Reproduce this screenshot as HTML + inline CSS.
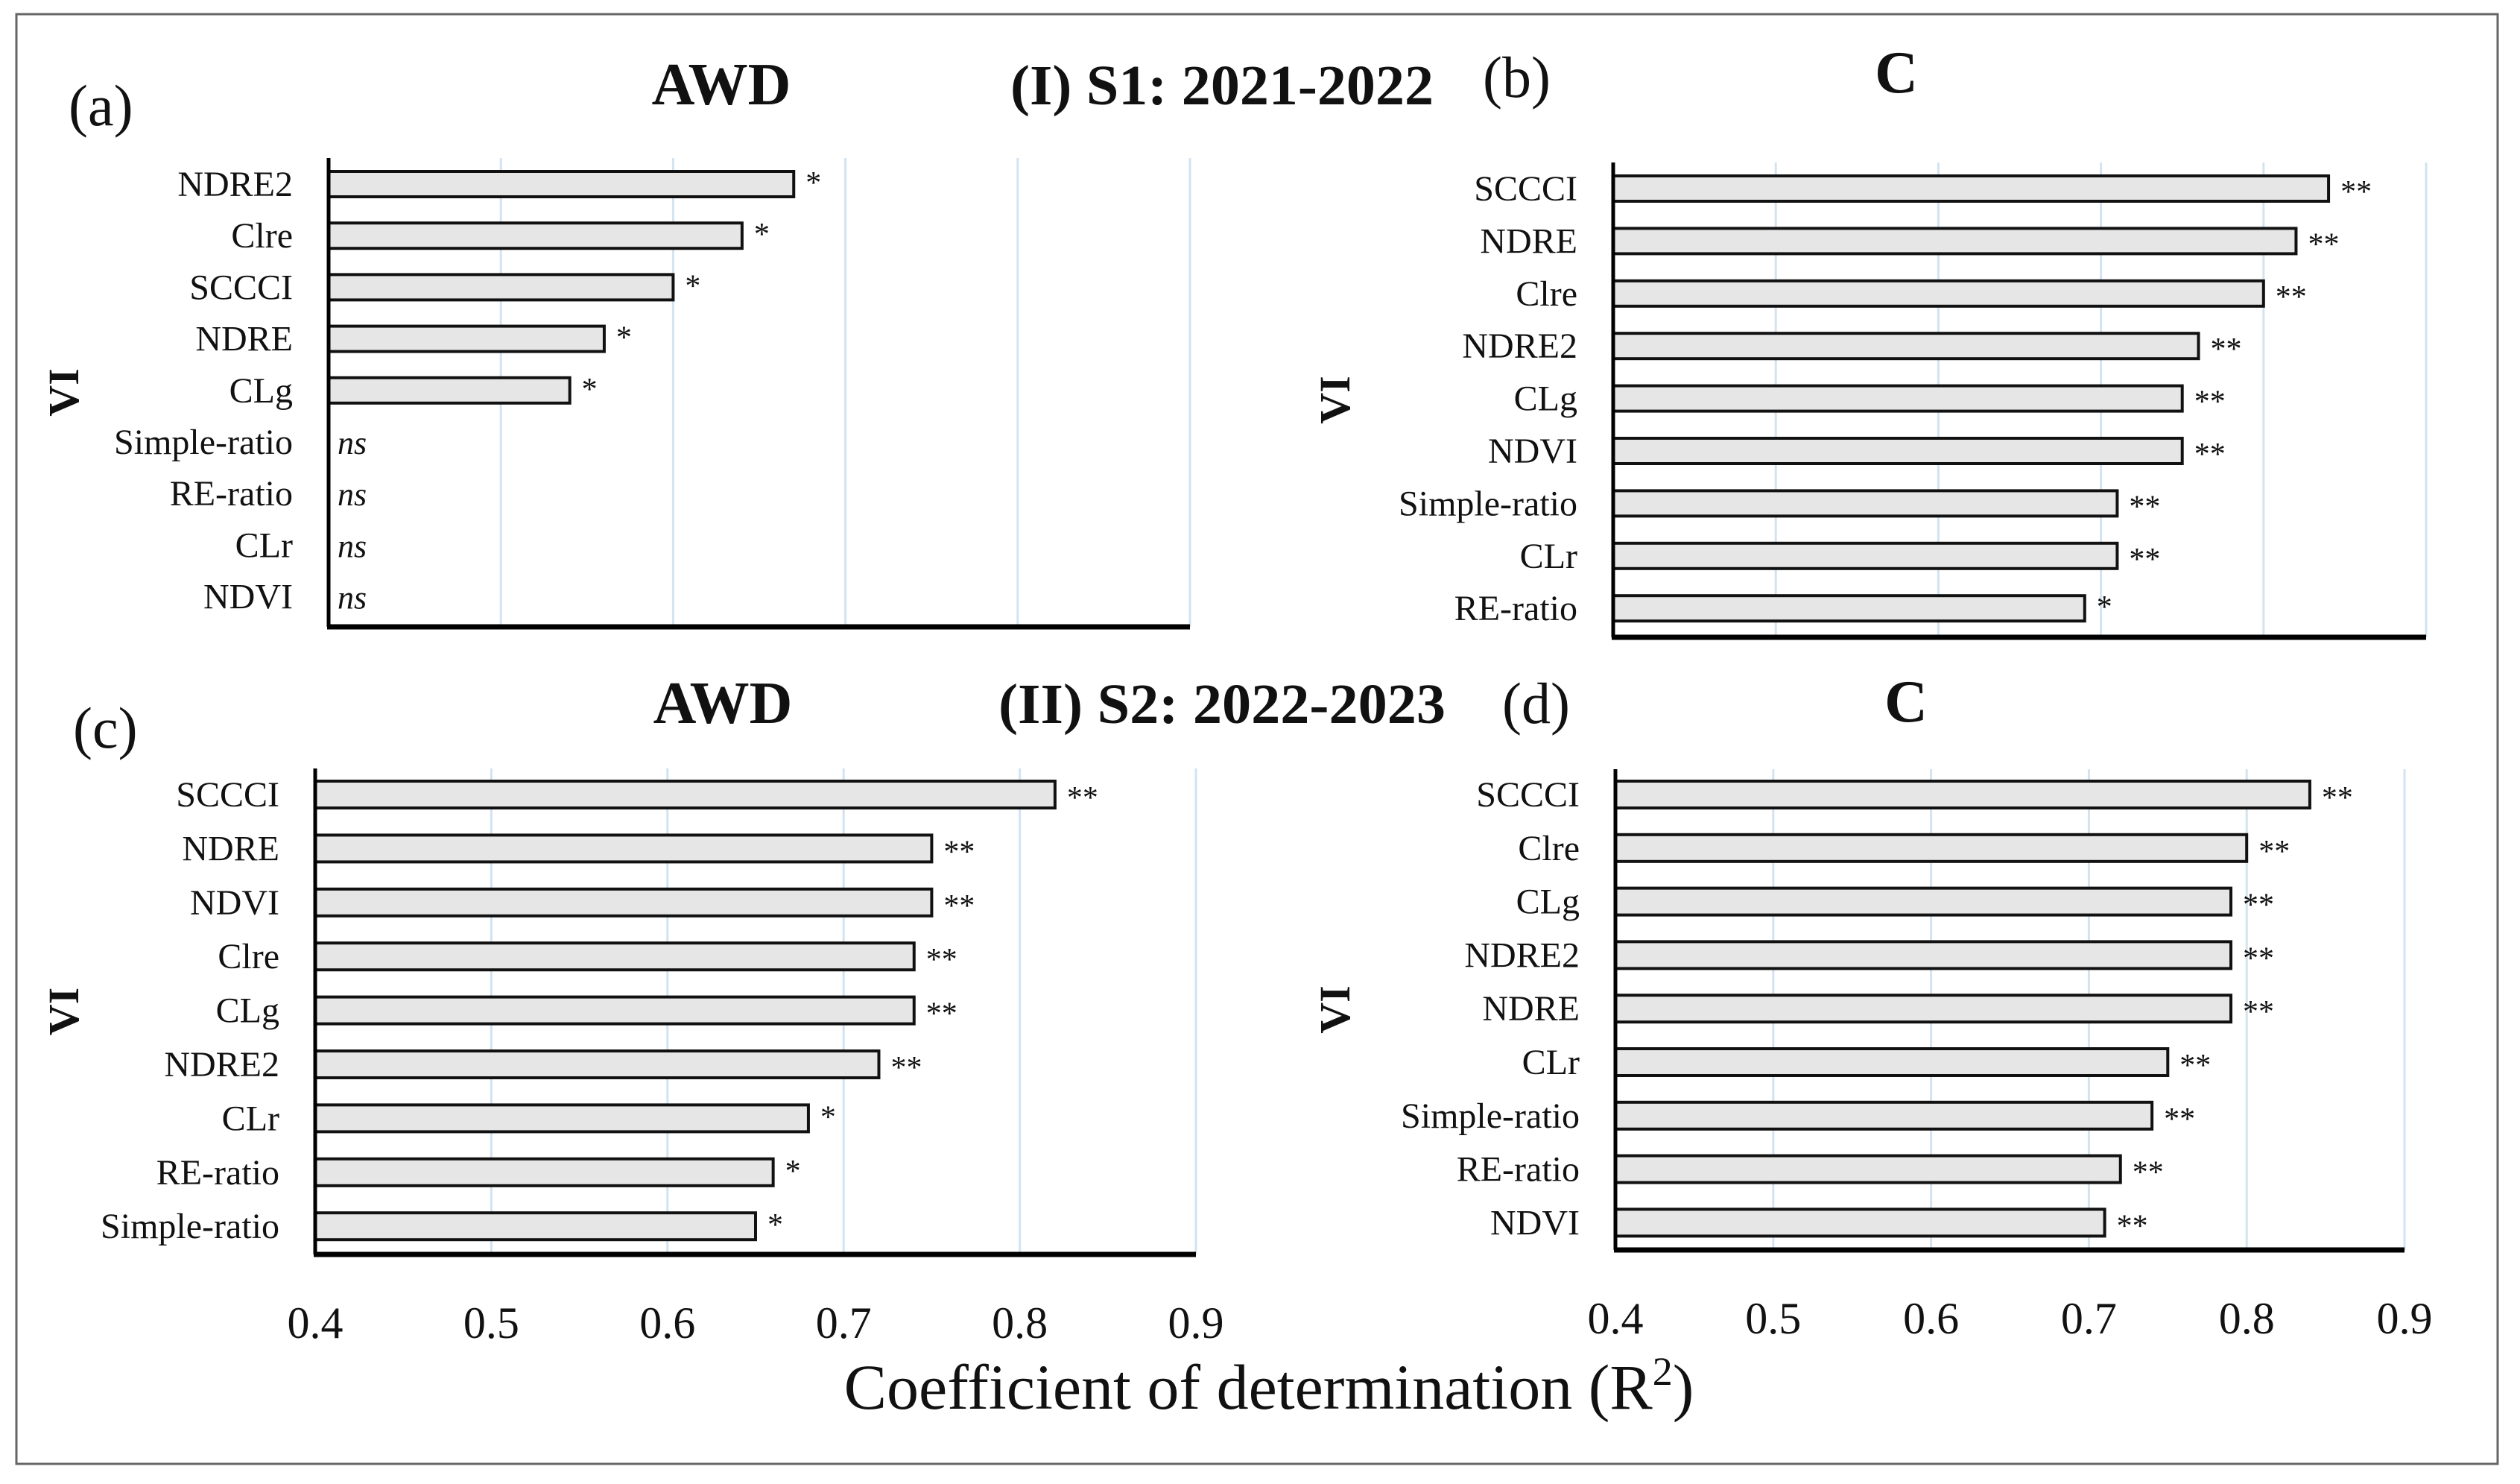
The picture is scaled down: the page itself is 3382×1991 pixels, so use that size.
<!DOCTYPE html>
<html><head><meta charset="utf-8">
<style>
html,body{margin:0;padding:0;background:#fff;}
svg{display:block;}
text{font-family:"Liberation Serif",serif;fill:#111;}
</style></head>
<body>
<svg id="fig" width="3382" height="1991" viewBox="0 0 3382 1991" xmlns="http://www.w3.org/2000/svg" font-family="Liberation Serif, serif">
<rect x="22" y="19" width="3330" height="1945" fill="#fff" stroke="#666" stroke-width="3"/>
<text x="92" y="168" font-size="78">(a)</text>
<text x="968" y="140" font-size="80" font-weight="bold" text-anchor="middle">AWD</text>
<text x="1356" y="140" font-size="76" font-weight="bold" textLength="568" lengthAdjust="spacingAndGlyphs">(I) S1: 2021-2022</text>
<text x="1990" y="130" font-size="78">(b)</text>
<text x="2545" y="124" font-size="80" font-weight="bold" text-anchor="middle">C</text>
<text x="98" y="1003" font-size="78">(c)</text>
<text x="970" y="970" font-size="80" font-weight="bold" text-anchor="middle">AWD</text>
<text x="1340" y="970" font-size="76" font-weight="bold" textLength="600" lengthAdjust="spacingAndGlyphs">(II) S2: 2022-2023</text>
<text x="2016" y="970" font-size="78">(d)</text>
<text x="2558" y="968" font-size="80" font-weight="bold" text-anchor="middle">C</text>
<text x="1703" y="1890" font-size="86" text-anchor="middle">Coefficient of determination (R<tspan font-size="54" dy="-32">2</tspan><tspan dy="32">)</tspan></text>
<g id="plots"></g>
</svg>
<script>
// Panel (a) AWD S1
const catsA = ["NDRE2","Clre","SCCCI","NDRE","CLg","Simple-ratio","RE-ratio","CLr","NDVI"];
const valsA = [0.67,0.64,0.60,0.56,0.54,null,null,null,null];
const sigA = ["*","*","*","*","*","ns","ns","ns","ns"];
// Panel (b) C S1
const catsB = ["SCCCI","NDRE","Clre","NDRE2","CLg","NDVI","Simple-ratio","CLr","RE-ratio"];
const valsB = [0.84,0.82,0.80,0.76,0.75,0.75,0.71,0.71,0.69];
const sigB = ["**","**","**","**","**","**","**","**","*"];
// Panel (c) AWD S2
const catsC = ["SCCCI","NDRE","NDVI","Clre","CLg","NDRE2","CLr","RE-ratio","Simple-ratio"];
const valsC = [0.82,0.75,0.75,0.74,0.74,0.72,0.68,0.66,0.65];
const sigC = ["**","**","**","**","**","**","*","*","*"];
// Panel (d) C S2
const catsD = ["SCCCI","Clre","CLg","NDRE2","NDRE","CLr","Simple-ratio","RE-ratio","NDVI"];
const valsD = [0.84,0.80,0.79,0.79,0.79,0.75,0.74,0.72,0.71];
const sigD = ["**","**","**","**","**","**","**","**","**"];
const xTicks = [0.4,0.5,0.6,0.7,0.8,0.9];
const xTickLabels = ["0.4","0.5","0.6","0.7","0.8","0.9"];

const NS = "http://www.w3.org/2000/svg";
const root = document.getElementById('plots');
function mk(tag, attrs, parent){const e=document.createElementNS(NS,tag);for(const k in attrs)e.setAttribute(k,attrs[k]);parent.appendChild(e);return e;}
const SERIF = 'Liberation Serif, serif';

const panels = [
 {id:'a',cats:catsA,vals:valsA,sig:sigA,x0:441,x1:1597,top:212,bot:841,y0:247,step:69.2,bh:34,ticks:false,viX:85},
 {id:'b',cats:catsB,vals:valsB,sig:sigB,x0:2165,x1:3256,top:218,bot:855,y0:253,step:70.4,bh:34,ticks:false,viX:1791},
 {id:'c',cats:catsC,vals:valsC,sig:sigC,x0:423,x1:1605,top:1031,bot:1683,y0:1066,step:72.4,bh:36,ticks:true,viX:85},
 {id:'d',cats:catsD,vals:valsD,sig:sigD,x0:2168,x1:3227,top:1032,bot:1677,y0:1066,step:71.8,bh:36,ticks:true,viX:1791}
];

panels.forEach(p=>{
  const g = mk('g',{},root);
  
  
  const xs = v => p.x0 + (v-0.4)/(0.9-0.4)*(p.x1-p.x0);
  const ys = i => p.y0 + i*p.step;
  xTicks.forEach((t,i)=>{
    if(i>0){
      const gl = mk('line',{x1:xs(t),x2:xs(t),y1:p.top,y2:p.bot,stroke:'#d3e3f0','stroke-width':3},g);
      
      
    }
    if(p.ticks){
      const tl = mk('text',{x:xs(t),y:p.bot+112,'font-size':60,'text-anchor':'middle','font-family':SERIF},g);
      tl.textContent = xTickLabels[i];
      
      
    }
  });
  p.cats.forEach((c,i)=>{
    const cy = ys(i);
    const lb = mk('text',{x:p.x0-48,y:cy+16,'font-size':48,'text-anchor':'end','font-family':SERIF},g);
    lb.textContent = c;
    
    
    const v = p.vals[i];
    if(v!==null){
      const r = mk('rect',{x:p.x0,y:cy-p.bh/2,width:xs(v)-p.x0,height:p.bh,fill:'#e6e6e6',stroke:'#111','stroke-width':4},g);
      
      
      const s = mk('text',{x:xs(v)+16,y:cy+(p.sig[i]==='*'?12:18),'font-size':42,'font-family':SERIF},g);
      s.textContent = p.sig[i];
      
      
    } else {
      const s = mk('text',{x:p.x0+12,y:cy+16,'font-size':44,'font-style':'italic','font-family':'Liberation Sans, sans-serif'},g);
      s.textContent = p.sig[i];
      
      
    }
  });
  const ya = mk('line',{x1:p.x0,x2:p.x0,y1:p.top,y2:p.bot,stroke:'#000','stroke-width':5},g);
  
  
  const xa = mk('line',{x1:p.x0-2,x2:p.x1,y1:p.bot,y2:p.bot,stroke:'#000','stroke-width':7},g);
  
  
  const cyv = (p.top+p.bot)/2;
  const vi = mk('text',{x:p.viX,y:cyv,'font-size':58,'font-weight':'bold','text-anchor':'middle','font-family':SERIF,transform:'rotate(-90 '+p.viX+' '+cyv+')',dy:20},g);
  vi.textContent='VI';
  
  
});
</script>
</body></html>
